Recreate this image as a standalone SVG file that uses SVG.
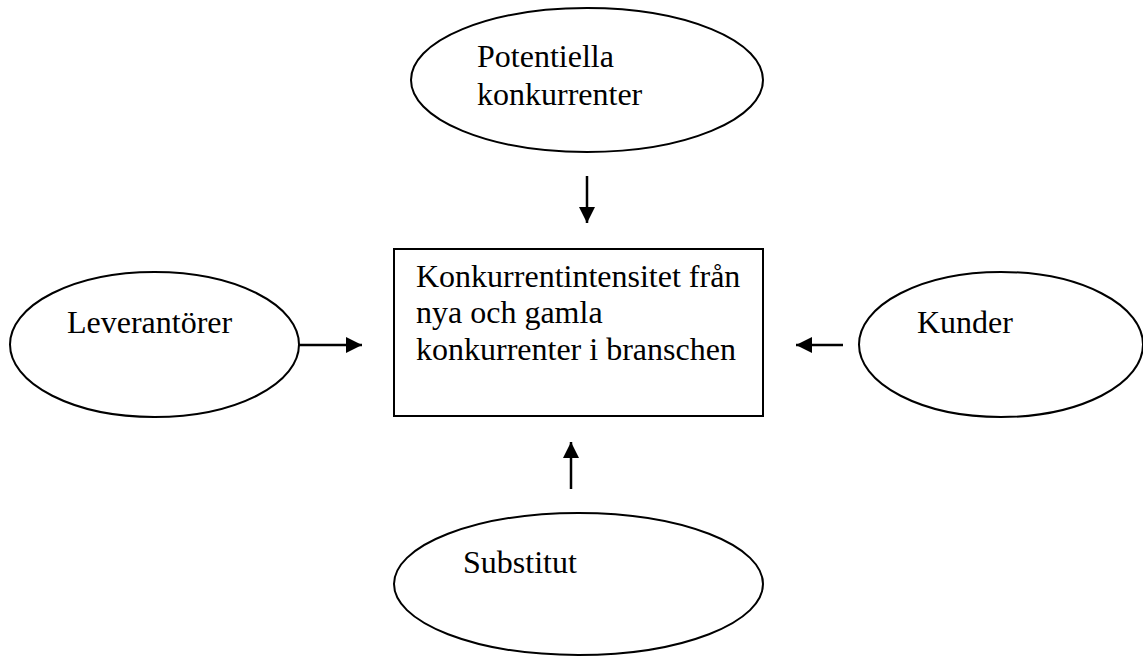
<svg xmlns="http://www.w3.org/2000/svg" width="1143" height="657" viewBox="0 0 1143 657">
<style>
.shape{fill:#fff;stroke:#000;stroke-width:2}
.lbl{font-family:"Liberation Serif","Times New Roman",serif;font-size:32px;fill:#000}
.conn{stroke:#000;stroke-width:2.5;fill:none}
</style>
<defs>
<marker id="ah" markerUnits="userSpaceOnUse" markerWidth="18" markerHeight="16" refX="16" refY="8" orient="auto">
<path d="M0,0 L16,8 L0,16 Z" fill="#000"/>
</marker>
</defs>
<rect width="1143" height="657" fill="#fff"/>
<g id="potentiella">
<ellipse class="shape" cx="587" cy="80" rx="176" ry="72"/>
<text class="lbl" x="477" y="67">Potentiella</text>
<text class="lbl" x="477" y="105">konkurrenter</text>
</g>
<g id="leverantorer">
<ellipse class="shape" cx="154.5" cy="344.5" rx="144.5" ry="72.5"/>
<text class="lbl" x="67" y="333">Leverantörer</text>
</g>
<g id="center">
<rect class="shape" x="394" y="249" width="369" height="167"/>
<text class="lbl" x="416" y="287">Konkurrentintensitet från</text>
<text class="lbl" x="416" y="323">nya och gamla</text>
<text class="lbl" x="416" y="360">konkurrenter i branschen</text>
</g>
<g id="kunder">
<ellipse class="shape" cx="1001" cy="344.5" rx="142" ry="72.5"/>
<text class="lbl" x="917" y="333">Kunder</text>
</g>
<g id="substitut">
<ellipse class="shape" cx="578.5" cy="584" rx="184.5" ry="71"/>
<text class="lbl" x="463" y="573">Substitut</text>
</g>
<g id="connectors">
<line class="conn" x1="587" y1="176" x2="587" y2="223" marker-end="url(#ah)"/>
<line class="conn" x1="299" y1="345" x2="362" y2="345" marker-end="url(#ah)"/>
<line class="conn" x1="843" y1="345" x2="796" y2="345" marker-end="url(#ah)"/>
<line class="conn" x1="571" y1="489" x2="571" y2="442" marker-end="url(#ah)"/>
</g>
</svg>
